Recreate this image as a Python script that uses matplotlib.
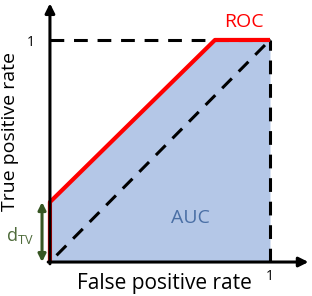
import matplotlib.pyplot as plt

plt.rcParams['font.family'] = ['Open Sans', 'DejaVu Sans']
plt.rcParams['mathtext.fontset'] = 'custom'
plt.rcParams['mathtext.rm'] = 'Open Sans'

# ROC curve points (false positive rate, true positive rate)
roc_fpr = [0.0, 0.0, 0.75, 1.0]
roc_tpr = [0.0, 0.27, 1.0, 1.0]
d_tv = 0.27

fig = plt.figure(figsize=(3.12, 2.96), dpi=100)
ax = fig.add_axes([0, 0, 1, 1])
ax.set_xlim(-0.227, 1.191)
ax.set_ylim(-0.153, 1.180)
ax.axis('off')

# area under the curve
ax.fill_between(roc_fpr, roc_tpr, 0, color='#b4c7e7', lw=0, zorder=1)

# reference dashed lines
dash = (0, (4.5, 3.2))
ax.plot([0.03, 1], [0.03, 1], color='black', lw=2.2, linestyle=dash, zorder=2)
ax.plot([0, 1], [1, 1], color='black', lw=2.2, linestyle=dash, zorder=2)
ax.plot([1, 1], [0, 1], color='black', lw=2.2, linestyle=dash, zorder=2)

# axes with arrows
ax.annotate('', xy=(1.175, 0), xytext=(-0.008, 0),
            arrowprops=dict(arrowstyle='-|>', color='black', lw=2.2,
                            mutation_scale=14, shrinkA=0, shrinkB=0), zorder=4)
ax.annotate('', xy=(0, 1.165), xytext=(0, -0.008),
            arrowprops=dict(arrowstyle='-|>', color='black', lw=2.2,
                            mutation_scale=14, shrinkA=0, shrinkB=0), zorder=4)

# ROC curve
ax.plot(roc_fpr, roc_tpr, color='#ff0000', lw=3, solid_capstyle='butt', zorder=3)

# d_TV double arrow
ax.annotate('', xy=(-0.036, d_tv), xytext=(-0.036, 0),
            arrowprops=dict(arrowstyle='<|-|>', color='#375623', lw=2.2,
                            mutation_scale=11, shrinkA=0, shrinkB=0))
ax.text(-0.135, 0.12, r'd$_{\mathrm{TV}}$', color='#4e6b3a', fontsize=13,
        ha='center', va='center')

# labels
ax.text(0.52, -0.095, 'False positive rate', fontsize=15, ha='center', va='center')
ax.text(-0.18, 0.59, 'True positive rate', fontsize=14, ha='center', va='center',
        rotation=90)
ax.text(1.0, -0.065, '1', fontsize=10, ha='center', va='center')
ax.text(-0.086, 0.99, '1', fontsize=10, ha='center', va='center')
ax.text(0.88, 1.08, 'ROC', color='#ff0000', fontsize=14, ha='center', va='center')
ax.text(0.64, 0.2, 'AUC', color='#4a6fa5', fontsize=14, ha='center', va='center')

fig.savefig('out.png', dpi=100)
